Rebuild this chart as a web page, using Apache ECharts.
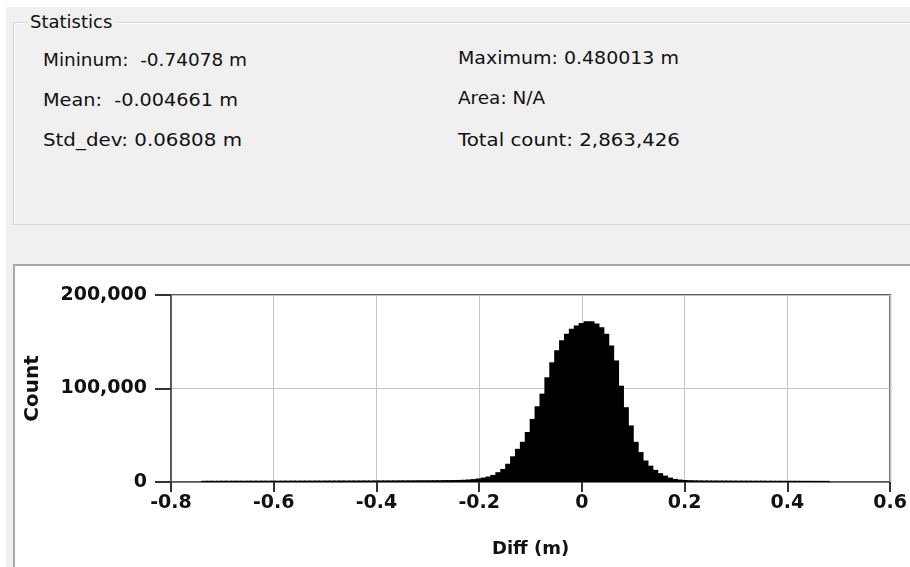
<!DOCTYPE html>
<html>
<head>
<meta charset="utf-8">
<script src="https://cdn.jsdelivr.net/npm/echarts@6/dist/echarts.min.js"></script>
<style>
  html, body { margin: 0; padding: 0; background: #ffffff; width: 910px; height: 567px; overflow: hidden; }
  #bg { position: absolute; left: 6px; top: 7px; width: 904px; height: 560px; background: #f0f0f0; }
  #group { position: absolute; left: 13px; top: 22px; width: 900px; height: 201px; border: 1px solid #d6d6d6; border-right: none; box-shadow: 1px 1px 0 #ffffff inset; }
  #grouptitle { position: absolute; left: 27px; top: 11px; padding: 0 3px; background: #f0f0f0; }
  .t { position: absolute; font-family: "DejaVu Sans", sans-serif; font-size: 18px; color: #111; white-space: pre; line-height: 22px; transform-origin: 0 50%; }
  #panel { position: absolute; left: 13px; top: 264px; width: 897px; height: 303px; background: #ffffff; border-left: 2px solid #a8a8a8; border-top: 2px solid #a8a8a8; box-sizing: border-box; }
  #chart { position: absolute; left: 0; top: 0; width: 910px; height: 567px; }
</style>
</head>
<body>
<div id="bg"></div>
<div id="group"></div>
<div id="grouptitle" class="t">Statistics</div>
<div id="stats"></div>
<div id="panel"></div>
<div id="chart"></div>
<script>
// Summary statistics shown in the panel
const statLabels = ["Mininum:", "Mean:", "Std_dev:", "Maximum:", "Area:", "Total count:"];
const statValues = ["-0.74078 m", "-0.004661 m", "0.06808 m", "0.480013 m", "N/A", "2,863,426"];

// Histogram range (from the statistics) and bin counts
const dataMin = -0.74078;
const dataMax = 0.480013;
const binCounts = [
  1300, 1350, 1300, 1350, 1400, 1350, 1400, 1400, 1350, 1400,
  1400, 1400, 1450, 1400, 1450, 1400, 1450, 1450, 1500, 1450,
  1500, 1500, 1500, 1550, 1500, 1550, 1550, 1550, 1600, 1550,
  1600, 1600, 1600, 1650, 1600, 1650, 1650, 1700, 1700, 1700,
  1750, 1750, 1800, 1800, 1850, 1850, 1900, 1900, 1950, 2000,
  2050, 2100, 2200, 2400, 2700, 3100, 3800, 4700, 5900, 7600,
  10500, 14000, 19500, 27500, 35500, 43000, 53500, 67500, 81000, 94500,
  112000, 128000, 141000, 151500, 158500, 164000, 167500, 170000, 172000, 172000,
  169500, 165500, 158500, 146000, 130000, 103000, 80000, 60500, 43000, 32000,
  23000, 17500, 13000, 9500, 6800, 4700, 3300, 2600, 2200, 1950,
  1800, 1700, 1650, 1600, 1600, 1550, 1550, 1500, 1500, 1450,
  1450, 1450, 1400, 1400, 1400, 1350, 1350, 1350, 1300, 1300,
  1300, 1300, 1250, 1250, 1250, 1200, 1200, 1200
];
// Axis ticks
const xTicks = [-0.8, -0.6, -0.4, -0.2, 0, 0.2, 0.4, 0.6];
const yTicks = [0, 100000, 200000];
const xName = "Diff (m)";
const yName = "Count";

// Build stats text
const statsDiv = document.getElementById('stats');
const pos = [[43, 49], [43, 89], [43, 129], [458, 47], [458, 87], [458, 129]];
const widths = [204, 195, 199, 221, 87, 222];
statLabels.forEach((l, i) => {
  const d = document.createElement('div');
  d.className = 't';
  d.style.left = pos[i][0] + 'px';
  d.style.top = pos[i][1] + 'px';
  d.textContent = l + (i < 2 ? '  ' : ' ') + statValues[i];
  statsDiv.appendChild(d);
  const w = d.getBoundingClientRect().width;
  d.style.transform = 'scaleX(' + (widths[i] / w).toFixed(3) + ')';
});

const nBins = binCounts.length;
const binW = (dataMax - dataMin) / nBins;
const barData = binCounts.map((c, i) => [dataMin + i * binW, dataMin + (i + 1) * binW, c]);

const chart = echarts.init(document.getElementById('chart'), null, { renderer: 'canvas' });
const axisFont = { fontFamily: 'DejaVu Sans', fontWeight: 'bold', fontSize: 19, color: '#111' };
chart.setOption({
  backgroundColor: 'transparent',
  animation: false,
  grid: { left: 171, right: 19, top: 295, bottom: 85, show: true, borderColor: '#5a5a5a', borderWidth: 2, backgroundColor: 'transparent' },
  xAxis: {
    type: 'value', min: xTicks[0], max: xTicks[xTicks.length - 1], interval: 0.2,
    name: xName, nameLocation: 'middle', nameGap: 58, nameTextStyle: { ...axisFont, fontSize: 18 },
    axisLine: { show: true, onZero: false, lineStyle: { color: '#777', width: 1 } },
    axisTick: { show: true, inside: false, length: 10, lineStyle: { color: '#333', width: 2 } },
    axisLabel: { ...axisFont, margin: 12, formatter: v => String(Math.round(v * 10) / 10) },
    splitLine: { show: true, lineStyle: { color: '#c4c4c4', width: 1 } }
  },
  yAxis: {
    type: 'value', min: yTicks[0], max: yTicks[yTicks.length - 1], interval: 100000,
    name: yName, nameLocation: 'middle', nameGap: 128, nameRotate: 90, nameTextStyle: { ...axisFont, fontSize: 20 },
    axisLine: { show: true, onZero: false, lineStyle: { color: '#5a5a5a', width: 2 } },
    axisTick: { show: true, inside: false, length: 16, lineStyle: { color: '#333', width: 2 } },
    axisLabel: { ...axisFont, margin: 24 },
    splitLine: { show: true, lineStyle: { color: '#c4c4c4', width: 1 } }
  },
  series: [{
    type: 'custom',
    clip: true,
    data: barData,
    encode: { x: [0, 1], y: 2 },
    renderItem: function (params, api) {
      const p0 = api.coord([api.value(0), api.value(2)]);
      const p1 = api.coord([api.value(1), 0]);
      return {
        type: 'rect',
        shape: { x: p0[0], y: p0[1], width: p1[0] - p0[0] + 1.2, height: p1[1] - p0[1] },
        style: { fill: '#000000', stroke: null }
      };
    }
  }]
});
</script>
</body>
</html>
